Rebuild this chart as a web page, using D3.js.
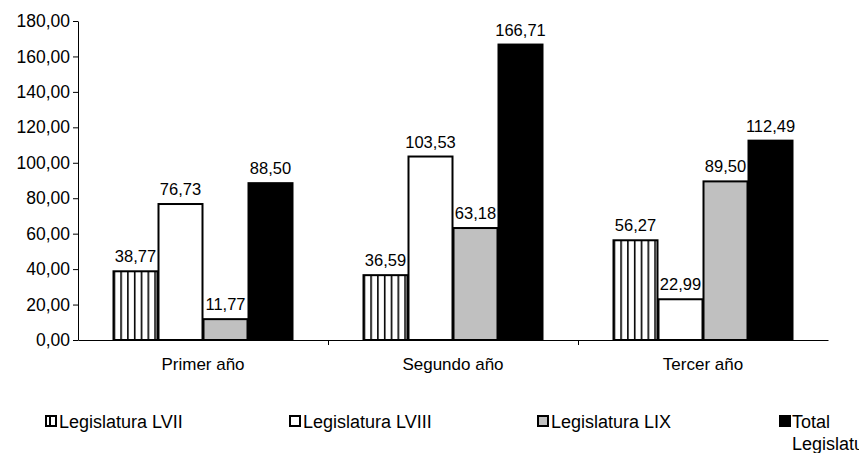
<!DOCTYPE html>
<html>
<head>
<meta charset="utf-8">
<script src="https://cdn.jsdelivr.net/npm/d3@7"></script>
<style>
  html, body { margin: 0; padding: 0; background: #fff; }
  svg { display: block; font-family: "Liberation Sans", Arial, sans-serif; }
</style>
</head>
<body>
<svg id="chart" width="859" height="453"></svg>
<script>
// Years of the legislative period
const categories = ["Primer año", "Segundo año", "Tercer año"];
// Series names
const seriesNames = ["Legislatura LVII", "Legislatura LVIII", "Legislatura LIX", "Total Legislaturas"];
// Values per series, in category order
const lvii  = [38.77, 36.59, 56.27];
const lviii = [76.73, 103.53, 22.99];
const lix   = [11.77, 63.18, 89.50];
const total = [88.50, 166.71, 112.49];
const yTicks = [0, 20, 40, 60, 80, 100, 120, 140, 160, 180];

const seriesValues = [lvii, lviii, lix, total];
const fmt = v => d3.format(".2f")(v).replace(".", ",");
const FONT = 16.5;

const svg = d3.select("#chart");
const defs = svg.append("defs");
const stripes = defs.append("pattern")
  .attr("id", "vstripes").attr("patternUnits", "userSpaceOnUse")
  .attr("width", 6.8).attr("height", 10).attr("x", 0.5);
stripes.append("rect").attr("width", 6.8).attr("height", 10).attr("fill", "#fff");
stripes.append("line").attr("x1", 0.8).attr("x2", 0.8).attr("y1", 0).attr("y2", 10)
  .attr("stroke", "#000").attr("stroke-width", 1.6);

const fills = ["url(#vstripes)", "#ffffff", "#c0c0c0", "#000000"];

const margin = { left: 78, right: 31, top: 21, bottom: 113 };
const W = 859, H = 453;
const x0 = d3.scaleBand().domain(categories).range([margin.left, W - margin.right]).paddingInner(0).paddingOuter(0);
const x1 = d3.scaleBand().domain(d3.range(4)).range([0, 180]);
const groupOffset = (x0.bandwidth() - 180) / 2;
const y = d3.scaleLinear().domain([0, 180]).range([H - margin.bottom, margin.top]);

// Y axis
const yAxis = svg.append("g").attr("transform", `translate(${margin.left},0)`)
  .call(d3.axisLeft(y).tickValues(yTicks).tickSize(5).tickSizeOuter(0).tickFormat(fmt));
yAxis.select(".domain").attr("stroke", "#000");
yAxis.selectAll(".tick line").attr("stroke", "#000");
yAxis.selectAll(".tick text").attr("font-size", 17.5).attr("fill", "#000")
  .attr("font-family", "Liberation Sans, Arial, sans-serif").attr("x", -8);

// Bars
const groups = svg.append("g").selectAll("g").data(categories).join("g")
  .attr("transform", d => `translate(${x0(d) + groupOffset},0)`);

groups.each(function (cat, ci) {
  const g = d3.select(this);
  seriesValues.forEach((vals, si) => {
    const v = vals[ci];
    g.append("rect")
      .attr("x", x1(si) + 0.5)
      .attr("y", y(v))
      .attr("width", x1.bandwidth() - 1)
      .attr("height", y(0) - y(v))
      .attr("fill", fills[si])
      .attr("stroke", "#000")
      .attr("stroke-width", 2);
    g.append("text")
      .attr("x", x1(si) + x1.bandwidth() / 2)
      .attr("y", y(v) - 9)
      .attr("text-anchor", "middle")
      .attr("font-size", FONT)
      .attr("fill", "#000")
      .text(fmt(v));
  });
});

// X axis
const xAxis = svg.append("g").attr("transform", `translate(0,${y(0)})`)
  .call(d3.axisBottom(x0).tickSize(0).tickSizeOuter(0));
xAxis.select(".domain").attr("stroke", "#000");
xAxis.selectAll(".tick text").attr("font-size", 17).attr("fill", "#000")
  .attr("font-family", "Liberation Sans, Arial, sans-serif").attr("dy", null).attr("y", 30);
// category separators
svg.append("g").selectAll("line").data(categories.slice(1)).join("line")
  .attr("x1", d => Math.round(x0(d)) + 0.5).attr("x2", d => Math.round(x0(d)) + 0.5)
  .attr("y1", y(0)).attr("y2", y(0) + 5).attr("stroke", "#000");

// Legend
const legendX = [45, 289, 537, 779];
const legend = svg.append("g").selectAll("g").data(seriesNames).join("g")
  .attr("transform", (d, i) => `translate(${legendX[i]},415)`);
legend.append("rect").attr("x", 1).attr("y", 1).attr("width", 10).attr("height", 10)
  .attr("fill", (d, i) => i === 0 ? "#fff" : fills[i])
  .attr("stroke", "#000").attr("stroke-width", 2);
legend.filter((d, i) => i === 0).append("line")
  .attr("x1", 5).attr("x2", 5).attr("y1", 1).attr("y2", 11)
  .attr("stroke", "#000").attr("stroke-width", 2);
legend.append("text").attr("x", 14).attr("y", 12.5)
  .attr("font-size", 18).attr("fill", "#000")
  .each(function (d, i) {
    const t = d3.select(this);
    if (i === 3) {
      t.append("tspan").attr("x", 13).text("Total");
      t.append("tspan").attr("x", 13).attr("dy", 22).text("Legislaturas");
    } else {
      t.text(d);
    }
  });
</script>
</body>
</html>
